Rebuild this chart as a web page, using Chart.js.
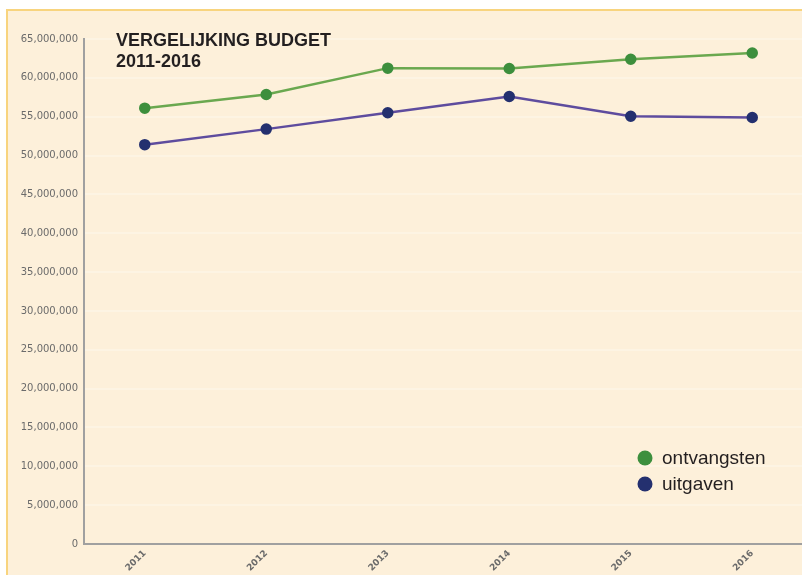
<!DOCTYPE html>
<html>
<head>
<meta charset="utf-8">
<script src="https://cdn.jsdelivr.net/npm/chart.js@4.4.1/dist/chart.umd.min.js"></script>
<style>
html,body{margin:0;padding:0;background:#fff;overflow:hidden;width:802px;height:575px;}
#wrap{position:absolute;left:0;top:0;width:820px;height:575px;}
</style>
</head>
<body>
<div id="wrap"><canvas id="c" width="820" height="575"></canvas></div>
<script>
const years = ['2011','2012','2013','2014','2015','2016'];
const ontvangsten = [56100000, 57850000, 61250000, 61200000, 62400000, 63200000];
const uitgaven = [51400000, 53400000, 55500000, 57600000, 55050000, 54900000];
const seriesNames = ['ontvangsten','uitgaven'];
const titleLines = ['VERGELIJKING BUDGET','2011-2016'];

const panelPlugin = {
  id: 'panel',
  beforeDraw(chart) {
    const ctx = chart.ctx;
    ctx.save();
    ctx.fillStyle = '#ffffff';
    ctx.fillRect(0,0,chart.width,chart.height);
    ctx.fillStyle = '#fdf0da';
    ctx.fillRect(7,10,chart.width,chart.height);
    ctx.strokeStyle = '#f8d47e';
    ctx.lineWidth = 2;
    ctx.beginPath();
    ctx.moveTo(7,chart.height+5);
    ctx.lineTo(7,10);
    ctx.lineTo(chart.width+5,10);
    ctx.stroke();
    ctx.restore();
  },
  afterDraw(chart) {
    const ctx = chart.ctx;
    ctx.save();
    ctx.fillStyle = '#231f20';
    ctx.font = 'bold 18px "Liberation Sans", Arial, sans-serif';
    ctx.textBaseline = 'alphabetic';
    ctx.textAlign = 'left';
    ctx.fillText(titleLines[0], 116, 46);
    ctx.fillText(titleLines[1], 116, 67);
    // legend
    ctx.font = '19px "Liberation Sans", Arial, sans-serif';
    chart.data.datasets.forEach((ds, i) => {
      const y = 458 + i*26;
      ctx.fillStyle = ds.pointBackgroundColor;
      ctx.beginPath();
      ctx.arc(645, y, 7.5, 0, Math.PI*2);
      ctx.fill();
      ctx.fillStyle = '#231f20';
      ctx.textBaseline = 'middle';
      ctx.fillText(ds.label, 662, y+1);
    });
    ctx.restore();
  }
};

new Chart(document.getElementById('c'), {
  type: 'line',
  data: {
    labels: years,
    datasets: [
      {label: seriesNames[0], data: ontvangsten, borderColor: '#6aa84f', backgroundColor: '#3d8f3d',
       pointBackgroundColor: '#3d8f3d', pointBorderColor: '#3d8f3d', pointRadius: 4.5, borderWidth: 2.5, tension: 0},
      {label: seriesNames[1], data: uitgaven, borderColor: '#5e4c9e', backgroundColor: '#24306f',
       pointBackgroundColor: '#24306f', pointBorderColor: '#24306f', pointRadius: 4.5, borderWidth: 2.5, tension: 0}
    ]
  },
  options: {
    responsive: false,
    animation: false,
    devicePixelRatio: 1,
    layout: {padding: {left: 0, right: 0, top: 39, bottom: 0}},
    plugins: {legend: {display: false}, tooltip: {enabled: false}, title: {display: false}},
    scales: {
      x: {
        offset: true,
        grid: {display: false, drawTicks: false},
        border: {display: true, color: '#a0a0a0', width: 2},
        ticks: {color: '#6b6b6b', font: {family: '"DejaVu Sans", sans-serif', size: 9, weight: 'bold'},
                maxRotation: 45, minRotation: 45, padding: 4},
        afterFit(s) { s.height = 31; }
      },
      y: {
        min: 0, max: 65000000,
        grid: {color: 'rgba(255,255,255,0.25)', drawTicks: false, lineWidth: 2},
        border: {display: true, color: '#a0a0a0', width: 2},
        ticks: {stepSize: 5000000, color: '#6b6b6b', padding: 6,
                font: {family: '"DejaVu Sans", sans-serif', size: 10},
                callback: v => v.toLocaleString('en-US')},
        afterFit(s) { s.width = 84; }
      }
    }
  },
  plugins: [panelPlugin]
});
</script>
</body>
</html>
